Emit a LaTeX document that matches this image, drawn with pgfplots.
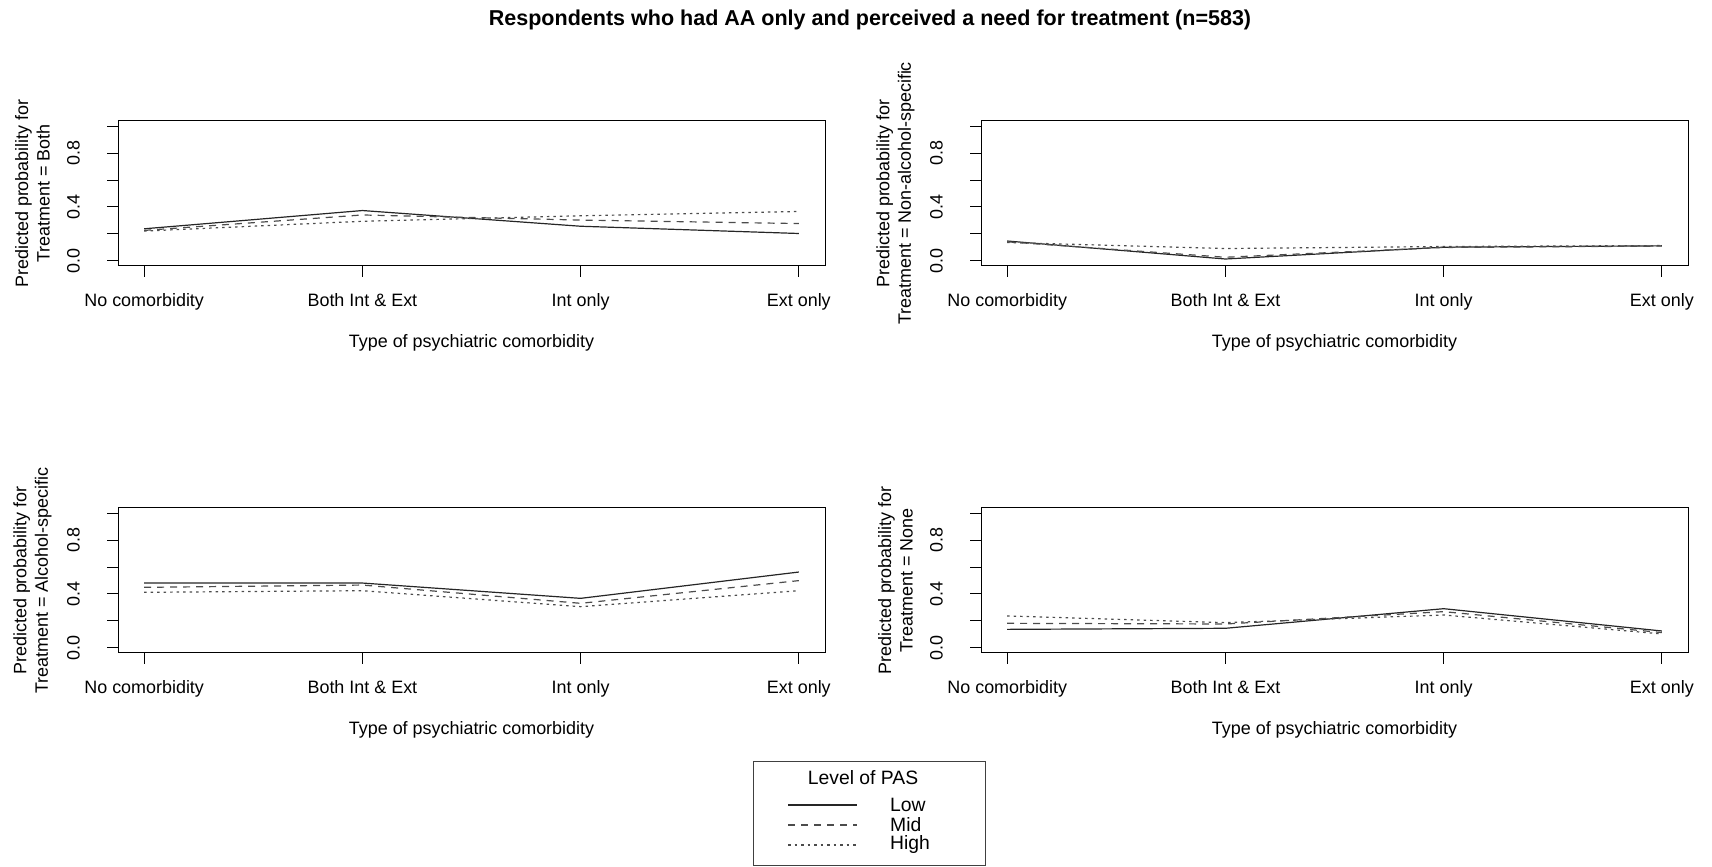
\documentclass[border=0pt]{standalone}
\usepackage{pgfplots}
\pgfplotsset{compat=1.18}
\usepackage{fontspec}
\setmainfont{Liberation Sans}

\newcommand{\tf}{\fontsize{18}{21.5}\selectfont}
\newcommand{\lf}{\fontsize{19.4}{23}\selectfont}

\tikzset{
  low/.style={black!85, line width=1.2bp, solid},
  mid/.style={black!70, line width=1.2bp, dash pattern=on 7bp off 6bp},
  high/.style={black!70, line width=1.2bp, dash pattern=on 2.5bp off 4bp},
}

\pgfplotsset{
  panel/.style={
    scale only axis, width=707bp, height=145bp,
    xmin=0.88, xmax=4.12, ymin=-0.04, ymax=1.04,
    xtick={1,2,3,4},
    xticklabels={No comorbidity, Both Int \& Ext, Int only, Ext only},
    ytick={0,0.2,0.4,0.6,0.8,1},
    yticklabels={0.0,{},0.4,{},0.8,{}},
    xtick pos=left, ytick pos=left,
    tick align=outside, major tick length=11bp,
    axis line style={line width=1bp, black},
    every tick/.style={black, line width=1bp},
    tick label style={font=\tf, inner sep=0pt},
    ticklabel shift=27bp,
    yticklabel style={rotate=90, anchor=south},
    xticklabel style={anchor=north, yshift=11bp},
    xlabel={Type of psychiatric comorbidity},
    every axis x label/.style={at={(axis description cs:0.5,-0.531)}, anchor=center, font=\tf},
    every axis y label/.style={at={(axis description cs:-0.121,0.5)}, rotate=90, anchor=center, align=center, font=\tf},
  },
}

\begin{document}
\begin{tikzpicture}[x=1bp,y=1bp]
\useasboundingbox (0,0) rectangle (1712,866);

\node[font=\fontsize{21.6}{25}\selectfont\bfseries] at (870,846) {Respondents who had AA only and perceived a need for treatment (n=583)};

% Panel 1: Both
\begin{axis}[panel, at={(118bp,600bp)}, anchor=south west,
  ylabel={Predicted probability for\\Treatment = Both}]
\addplot[low]  coordinates {(1,0.237) (2,0.373) (3,0.256) (4,0.202)};
\addplot[mid]  coordinates {(1,0.225) (2,0.340) (3,0.302) (4,0.276)};
\addplot[high] coordinates {(1,0.220) (2,0.293) (3,0.334) (4,0.366)};
\end{axis}

% Panel 2: Non-alcohol-specific
\begin{axis}[panel, at={(981bp,600bp)}, anchor=south west,
  ylabel={Predicted probability for\\Treatment = Non-alcohol-specific}]
\addplot[low]  coordinates {(1,0.146) (2,0.012) (3,0.100) (4,0.110)};
\addplot[mid]  coordinates {(1,0.140) (2,0.025) (3,0.098) (4,0.108)};
\addplot[high] coordinates {(1,0.135) (2,0.090) (3,0.105) (4,0.112)};
\end{axis}

% Panel 3: Alcohol-specific
\begin{axis}[panel, at={(118bp,213bp)}, anchor=south west,
  ylabel={Predicted probability for\\Treatment = Alcohol-specific}]
\addplot[low]  coordinates {(1,0.481) (2,0.481) (3,0.367) (4,0.563)};
\addplot[mid]  coordinates {(1,0.449) (2,0.466) (3,0.330) (4,0.499)};
\addplot[high] coordinates {(1,0.412) (2,0.424) (3,0.305) (4,0.424)};
\end{axis}

% Panel 4: None
\begin{axis}[panel, at={(981bp,213bp)}, anchor=south west,
  ylabel={Predicted probability for\\Treatment = None}]
\addplot[low]  coordinates {(1,0.136) (2,0.144) (3,0.290) (4,0.124)};
\addplot[mid]  coordinates {(1,0.181) (2,0.176) (3,0.268) (4,0.112)};
\addplot[high] coordinates {(1,0.236) (2,0.186) (3,0.243) (4,0.102)};
\end{axis}

% Legend
\draw[black!75, line width=1bp] (753,1) rectangle (985,104);
\node[font=\lf] at (863,88) {Level of PAS};
\draw[low]  (788,61) -- (857,61);
\draw[mid]  (788,41) -- (857,41);
\draw[high] (788,21) -- (857,21);
\node[font=\lf, anchor=west, inner sep=0pt] at (890,61) {Low};
\node[font=\lf, anchor=west, inner sep=0pt] at (890,41) {Mid};
\node[font=\lf, anchor=west, inner sep=0pt] at (890,21) {High};
\end{tikzpicture}
\end{document}
